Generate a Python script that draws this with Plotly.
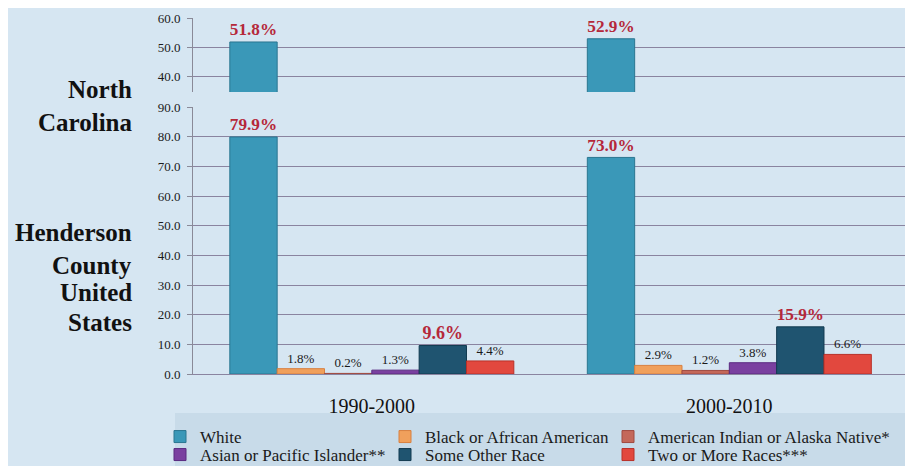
import plotly.graph_objects as go

# ---------------- data ----------------
categories = ["1990-2000", "2000-2010"]
races = ["White", "Black or African American", "American Indian or Alaska Native*",
         "Asian or Pacific Islander**", "Some Other Race", "Two or More Races***"]
white = [79.9, 73.0]
black = [1.8, 2.9]
am_indian = [0.2, 1.2]
asian = [1.3, 3.8]
other = [9.6, 15.9]
two_more = [4.4, 6.6]
nc_white = [51.8, 52.9]
y_ticks_top = [40, 50, 60]
y_ticks_bottom = [0, 10, 20, 30, 40, 50, 60, 70, 80, 90]

series = [white, black, am_indian, asian, other, two_more]

# ---------------- style ----------------
# the page body has an 8px margin, so the figure is laid out 8px up/left
OFF = 8
W, H = 913, 466
ML, MT = 193 - OFF, 18 - OFF
MR = W - (908 - OFF)
MB = H - (374 - OFF)
PW, PH = W - ML - MR, H - MT - MB
FONT = "Liberation Serif, Times New Roman, serif"
colors = ["#3A98B8", "#F0A05C", "#C4685A", "#7A40A0", "#1F5470", "#E2483E"]
edges = ["#2A7690", "#D88040", "#A04A40", "#5A2A80", "#123A50", "#B83028"]
highlight = [True, False, False, False, True, False]
BAR_W = 0.1324
GROUP_LEFT = -0.397


def px_x(px):
    """reference-image x pixel -> paper fraction"""
    return (px - OFF - ML) / PW


def px_y(py):
    """reference-image y pixel -> paper fraction"""
    return (H - MB - (py - OFF)) / PH


fig = go.Figure()

# legend placement (text start x, row y) in reference pixels
leg_pos = [(200, 437), (425, 437), (648, 437), (200, 455), (425, 455), (648, 455)]

for i, (name, vals) in enumerate(zip(races, series)):
    tf = dict(family=FONT, size=18, color="#B5283A", weight="bold") if highlight[i] \
        else dict(family=FONT, size=13, color="#1a1a1a")
    fig.add_trace(go.Bar(
        x=categories, y=vals, name=name,
        width=BAR_W, offset=GROUP_LEFT + i * BAR_W,
        marker=dict(color=colors[i], line=dict(color=edges[i], width=1)),
        texttemplate="%{y:.1f}%", textposition="outside", textfont=tf,
        cliponaxis=False, xaxis="x", yaxis="y",
        legend="legend" if i == 0 else f"legend{i + 1}",
    ))

# North Carolina strip (only the White bars are visible in it)
fig.add_trace(go.Bar(
    x=categories, y=nc_white, name="White", showlegend=False,
    width=BAR_W, offset=GROUP_LEFT,
    marker=dict(color=colors[0], line=dict(color=edges[0], width=1)),
    texttemplate="%{y:.1f}%", textposition="outside",
    textfont=dict(family=FONT, size=18, color="#B5283A", weight="bold"),
    cliponaxis=False, xaxis="x2", yaxis="y2",
))

grid = "#8A84A0"
axis_common = dict(showgrid=True, gridcolor=grid, gridwidth=1, showline=True,
                   linecolor="#8A8A98", ticks="outside", ticklen=5, tickcolor="#8A8A98",
                   tickformat=".1f", tickfont=dict(family=FONT, size=13, color="#1a1a1a"),
                   zeroline=False, ticklabelstandoff=4)

legends = {}
for i, (tx, ty) in enumerate(leg_pos):
    key = "legend" if i == 0 else f"legend{i + 1}"
    legends[key] = dict(x=px_x(tx - 40), y=px_y(ty), xanchor="left", yanchor="middle",
                        xref="paper", yref="paper", bgcolor="rgba(0,0,0,0)",
                        font=dict(family=FONT, size=17, color="#1a1a1a"),
                        itemclick=False, itemdoubleclick=False)

annotations = []
left_text = [("North", 89), ("Carolina", 122), ("Henderson", 232), ("County", 265),
             ("United", 292), ("States", 322)]
for txt, py in left_text:
    annotations.append(dict(text=txt, x=px_x(134), y=px_y(py), xref="paper", yref="paper",
                            xanchor="right", yanchor="middle", showarrow=False,
                            font=dict(family=FONT, size=25, color="#111", weight="bold")))

fig.update_layout(
    width=W, height=H,
    margin=dict(l=ML, r=MR, t=MT, b=MB, autoexpand=False),
    paper_bgcolor="#D6E6F2", plot_bgcolor="rgba(0,0,0,0)",
    showlegend=True,
    xaxis=dict(domain=[0, 1], range=[-0.5, 1.5], showgrid=False, showline=True,
               linecolor=grid, ticks="", tickfont=dict(family=FONT, size=20, color="#111"),
               ticklabelstandoff=14, anchor="y"),
    yaxis=dict(domain=[0, px_y(107)], range=[0, 90], tickvals=y_ticks_bottom,
               anchor="x", **axis_common),
    xaxis2=dict(domain=[0, 1], range=[-0.5, 1.5], showgrid=False, showline=False,
                showticklabels=False, ticks="", anchor="y2"),
    yaxis2=dict(domain=[px_y(92), 1], range=[34.7, 60], tickvals=y_ticks_top,
                anchor="x2", **axis_common),
    shapes=[dict(type="rect", xref="paper", yref="paper", x0=px_x(175), x1=px_x(925),
                 y0=px_y(480), y1=px_y(413), fillcolor="#C8DBE9", line=dict(width=0),
                 layer="below")],
    annotations=annotations,
    **legends,
)

fig.write_html("out.html")
